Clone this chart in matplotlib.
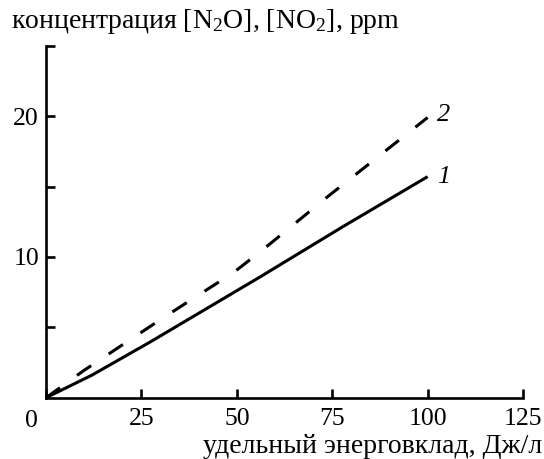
import numpy as np
import matplotlib.pyplot as plt

plt.rcParams['font.family'] = ['Liberation Serif', 'DejaVu Serif']
plt.rcParams['mathtext.fontset'] = 'custom'
plt.rcParams['mathtext.rm'] = 'Liberation Serif'
plt.rcParams['mathtext.it'] = 'Liberation Serif:italic'

# curve 1 (solid) and curve 2 (dashed)
x1 = [0, 12, 27.3, 56.1, 77.8, 100]
y1 = [0, 1.6, 3.96, 8.58, 12.15, 15.7]
x2 = [0, 10, 20, 30, 40, 49, 57.4, 73.9, 100]
y2 = [0, 1.95, 3.75, 5.55, 7.3, 8.86, 10.64, 14.3, 19.9]

xticks = [0, 25, 50, 75, 100, 125]
yticks = [5, 10, 15, 20, 25]
ylabels = ['', '10', '', '20', '']

fig = plt.figure(figsize=(5.44, 4.59), dpi=100)
ax = fig.add_axes([0.0846, 0.1335, 0.8768, 0.7669])

ax.plot(x1, y1, color='black', lw=2.2, solid_capstyle='butt')
ax.plot(x2, y2, color='black', lw=2.2, dashes=(5.6, 6.9), dash_capstyle='butt')

ax.set_xlim(0, 125)
ax.set_ylim(0, 25)
ax.spines['top'].set_visible(False)
ax.spines['right'].set_visible(False)
for s in ['left', 'bottom']:
    ax.spines[s].set_linewidth(1.9)

ax.set_xticks(xticks)
ax.set_xticklabels([''] + [str(v) for v in xticks[1:]])
ax.set_yticks(yticks)
ax.set_yticklabels(ylabels)
ax.tick_params(direction='in', length=6.5, width=1.9, labelsize=18.5)
ax.tick_params(axis='x', pad=7.5)
ax.tick_params(axis='y', pad=5)

ax.annotate('0', (0, 0), xytext=(-10.5, -17), textcoords='offset points',
            ha='center', va='center', fontsize=18.5, annotation_clip=False)

ax.annotate('1', (x1[-1], y1[-1]), xytext=(7, 0), textcoords='offset points',
            ha='left', va='center', fontsize=19, style='italic')
ax.annotate('2', (x2[-1], y2[-1]), xytext=(7, 1.5), textcoords='offset points',
            ha='left', va='center', fontsize=19, style='italic')

fig.text(11 / 544, 1 - 28 / 459, 'концентрация [N$_2$O], [NO$_2$], ppm', fontsize=20,
         ha='left', va='baseline')
fig.text(542 / 544, 1 - 453 / 459, 'удельный энерговклад, Дж/л', fontsize=20,
         ha='right', va='baseline')

fig.savefig('out.png', dpi=100)
